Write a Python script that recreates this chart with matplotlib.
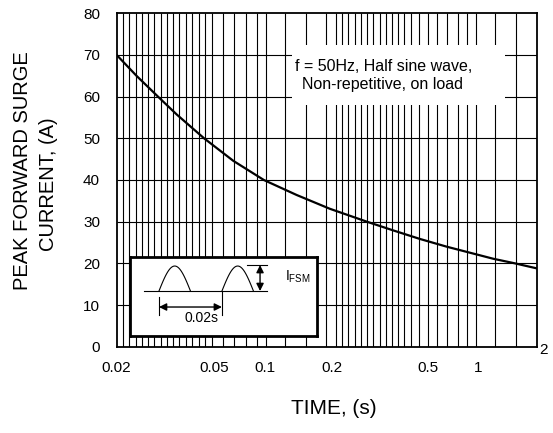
import numpy as np
import matplotlib
matplotlib.use("Agg")
import matplotlib.pyplot as plt
from matplotlib.patches import Rectangle

plt.rcParams["font.family"] = ["Liberation Sans", "DejaVu Sans"]
plt.rcParams["mathtext.fontset"] = "custom"
plt.rcParams["mathtext.rm"] = "Liberation Sans"

# ------------------------------------------------------------
# Data
# ------------------------------------------------------------
time_s = [0.02, 0.0241, 0.0295, 0.0352, 0.0455, 0.0648, 0.098, 0.1387,
          0.196, 0.279, 0.3586, 0.462, 0.645, 0.891, 1.195, 1.545, 2.0]
surge_a = [70, 65.0, 60, 55.7, 50, 44.6, 40, 36.4,
           33.1, 30, 27.9, 25.85, 24.0, 22.55, 21.1, 20.0, 18.8]

tick_values = [0.02, 0.05, 0.1, 0.2, 0.5, 1, 2]
tick_labels = ["0.02", "0.05", "0.1", "0.2", "0.5", "1", "2"]
# where each labelled time sits across the (hand drawn) axis
tick_fracs = [0.0, 0.232, 0.354, 0.512, 0.742, 0.861, 1.0]
y_ticks = list(range(0, 90, 10))

# vertical grid rulings, as fraction of axis width
grid_fracs = [0.0157, 0.0305, 0.0455, 0.0602, 0.075, 0.0898, 0.1045, 0.1193,
              0.1345, 0.1495, 0.1645, 0.1798, 0.1955, 0.2107, 0.2262, 0.2538,
              0.28, 0.3079, 0.3329, 0.356, 0.4019, 0.4519, 0.4979, 0.521,
              0.5362, 0.5512, 0.5664, 0.5814, 0.596, 0.6114, 0.626, 0.6412,
              0.655, 0.6698, 0.6845, 0.7, 0.7198, 0.7407, 0.7631, 0.7857,
              0.8121, 0.8345, 0.8555, 0.9019, 0.9507]

log_ticks = np.log10(tick_values)


def forward(x):
    x = np.clip(np.asarray(x, dtype=float), 1e-9, None)
    return np.interp(np.log10(x), log_ticks, tick_fracs)


def inverse(f):
    return 10 ** np.interp(np.asarray(f, dtype=float), tick_fracs, log_ticks)


fig = plt.figure(figsize=(5.53, 4.33), dpi=100)
ax = fig.add_axes([0.2110, 0.1993, 0.7595, 0.770])
ax.set_xscale("function", functions=(forward, inverse))
ax.set_xlim(0.02, 2)
ax.set_ylim(0, 80)

# grid
ax.vlines(grid_fracs, 0, 1, transform=ax.transAxes, color="black", lw=0.8, zorder=1)
ax.hlines(y_ticks[1:-1], 0.02, 2, color="black", lw=0.8, zorder=1)

# white panel behind the note
ax.add_patch(Rectangle((0.417, 0.7246), 0.508, 0.1794, transform=ax.transAxes,
                       facecolor="white", edgecolor="none", zorder=2))
ax.text(0.4245, 0.839, "f = 50Hz, Half sine wave,", transform=ax.transAxes,
        ha="left", va="center", fontsize=11.5, zorder=3)
ax.text(0.4405, 0.785, "Non-repetitive, on load", transform=ax.transAxes,
        ha="left", va="center", fontsize=11.5, zorder=3)

ax.plot(time_s, surge_a, color="black", lw=1.6, zorder=4)

ax.set_xticks(tick_values[:-1])
ax.set_xticklabels(tick_labels[:-1])
ax.xaxis.set_minor_locator(matplotlib.ticker.NullLocator())
ax.set_yticks(y_ticks)
ax.tick_params(length=0, labelsize=11)
ax.tick_params(axis="x", pad=10.5)
ax.tick_params(axis="y", pad=12)
ax.annotate(tick_labels[-1], xy=(tick_values[-1], 0), xycoords=ax.get_xaxis_transform(),
            xytext=(5, -2.5), textcoords="offset points", ha="center", va="center",
            fontsize=11, annotation_clip=False)
for s in ax.spines.values():
    s.set_linewidth(1.3)

# ------------------------------------------------------------
# Inset: waveform sketch
# ------------------------------------------------------------
ins = fig.add_axes([0.2351, 0.2240, 0.3382, 0.1824])
ins.set_xlim(-0.0092, 0.0502)
ins.set_ylim(-1.8, 1.36)
ins.set_xticks([])
ins.set_yticks([])
for s in ins.spines.values():
    s.set_linewidth(2)

t = np.linspace(0, 0.01, 60)
for t0 in (0.0, 0.02):
    ins.plot(t + t0, np.sin(np.pi * t / 0.01), color="black", lw=0.8)
ins.plot([-0.0048, 0.0343], [0, 0], color="black", lw=0.8)
ins.plot([0.0279, 0.0343], [1.04, 1.04], color="black", lw=0.8)
ins.plot([0, 0], [-0.24, -0.96], color="black", lw=0.8)
ins.plot([0.02, 0.02], [0, -0.96], color="black", lw=0.8)

arrow = dict(arrowstyle="<|-|>", color="black", lw=1.0, mutation_scale=11,
             shrinkA=0, shrinkB=0)
ins.annotate("", xy=(0.0321, 1.04), xytext=(0.0321, 0), arrowprops=arrow)
ins.annotate("", xy=(0.02, -0.64), xytext=(0.0, -0.64), arrowprops=arrow)
ins.text(0.0136, -1.06, "0.02s", ha="center", va="center", fontsize=10)
ins.text(0.040, 0.56, r"I$_{\mathrm{FSM}}$", ha="left", va="center", fontsize=10)

# axis titles
fig.text(23 / 553, 1 - 171 / 433, "PEAK FORWARD SURGE", rotation=90,
         ha="center", va="center", fontsize=14.5)
fig.text(48 / 553, 1 - 184.5 / 433, "CURRENT, (A)", rotation=90,
         ha="center", va="center", fontsize=14.5)
fig.text(334 / 553, 1 - 409 / 433, "TIME, (s)", ha="center", va="center", fontsize=15)

fig.savefig("out.png", dpi=100)
